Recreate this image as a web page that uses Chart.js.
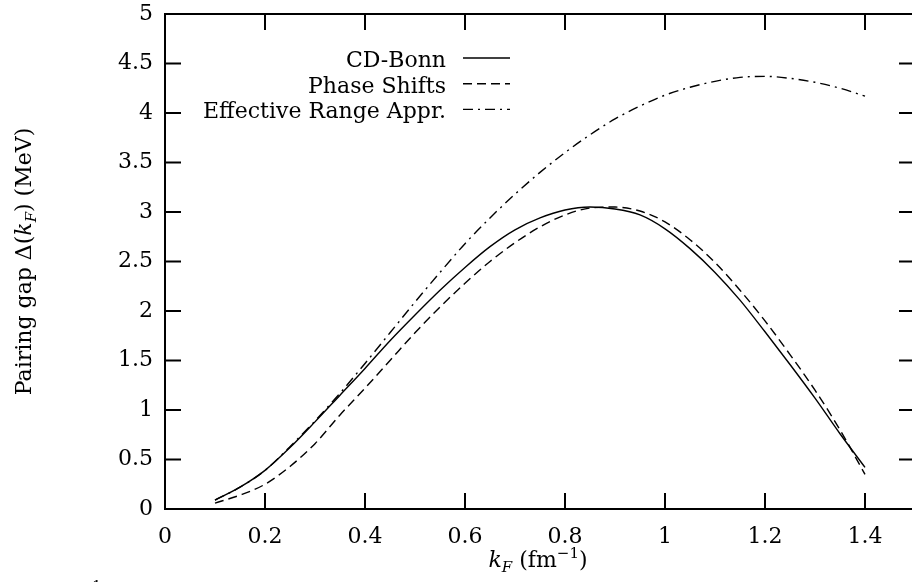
<!DOCTYPE html>
<html>
<head>
<meta charset="utf-8">
<script src="https://cdn.jsdelivr.net/npm/chart.js@4.4.1/dist/chart.umd.min.js"></script>
<style>
body { margin: 0; background: #fff; overflow: hidden; }
#wrap { width: 920px; height: 582px; }
</style>
</head>
<body>
<div id="wrap"><canvas id="gapChart" width="920" height="582"></canvas></div>
<script>
// k_F values (fm^-1)
const kF = [0.10, 0.15, 0.20, 0.25, 0.30, 0.35, 0.40, 0.45, 0.50, 0.55, 0.60, 0.65, 0.70, 0.75,
            0.80, 0.85, 0.90, 0.95, 1.00, 1.05, 1.10, 1.15, 1.20, 1.25, 1.30, 1.35, 1.40];
const cdBonn = [0.09, 0.22, 0.39, 0.62, 0.88, 1.15, 1.42, 1.70, 1.96, 2.21, 2.44, 2.65, 2.82, 2.94,
                3.02, 3.05, 3.03, 2.97, 2.83, 2.63, 2.39, 2.11, 1.79, 1.46, 1.12, 0.76, 0.42];
const phaseShifts = [0.06, 0.14, 0.25, 0.43, 0.66, 0.95, 1.22, 1.50, 1.78, 2.04, 2.28, 2.50, 2.69, 2.85,
                     2.97, 3.04, 3.05, 3.01, 2.90, 2.72, 2.49, 2.21, 1.90, 1.56, 1.20, 0.80, 0.35];
const effRange = [0.09, 0.22, 0.39, 0.63, 0.89, 1.17, 1.47, 1.78, 2.09, 2.39, 2.68, 2.94, 3.18, 3.40,
                  3.60, 3.78, 3.94, 4.07, 4.18, 4.26, 4.32, 4.36, 4.37, 4.35, 4.31, 4.25, 4.17];
const xTicks = [0, 0.2, 0.4, 0.6, 0.8, 1, 1.2, 1.4];
const yTicks = [0, 0.5, 1, 1.5, 2, 2.5, 3, 3.5, 4, 4.5, 5];
const seriesLabels = ['CD-Bonn', 'Phase Shifts', 'Effective Range Appr.'];

const FONT = 'DejaVu Serif';
const FS = 22;

function pts(ys) {
    return kF.map((k, i) => ({ x: k, y: ys[i] }));
}

// text runs: [text, style, size, dy]
function runsWidth(ctx, runs) {
    let w = 0;
    runs.forEach(r => {
        ctx.font = r[1] + ' ' + r[2] + 'px "' + FONT + '"';
        w += ctx.measureText(r[0]).width;
    });
    return w;
}
function drawRuns(ctx, runs, x, y) {
    runs.forEach(r => {
        ctx.font = r[1] + ' ' + r[2] + 'px "' + FONT + '"';
        ctx.fillText(r[0], x, y + r[3]);
        x += ctx.measureText(r[0]).width;
    });
}

const framePlugin = {
    id: 'frame',
    afterDraw(chart) {
        const ctx = chart.ctx;
        const { left, top, right, bottom } = chart.chartArea;
        const xs = chart.scales.x, ys = chart.scales.y;
        ctx.save();
        ctx.strokeStyle = '#000';
        ctx.lineWidth = 2;
        ctx.setLineDash([]);
        ctx.strokeRect(left, top, right - left, bottom - top);
        const tl = 16;
        ctx.beginPath();
        xTicks.forEach(v => {
            const p = xs.getPixelForValue(v);
            ctx.moveTo(p, bottom); ctx.lineTo(p, bottom - tl);
            ctx.moveTo(p, top); ctx.lineTo(p, top + tl);
        });
        yTicks.forEach(v => {
            const p = ys.getPixelForValue(v);
            ctx.moveTo(left, p); ctx.lineTo(left + tl, p);
            ctx.moveTo(right, p); ctx.lineTo(right - tl, p);
        });
        ctx.stroke();

        // legend
        ctx.fillStyle = '#000';
        ctx.font = FS + 'px "' + FONT + '"';
        ctx.textAlign = 'right';
        ctx.textBaseline = 'alphabetic';
        chart.data.datasets.forEach((ds, i) => {
            const base = 67 + i * 25.7;
            ctx.fillText(ds.label, 446, base);
            ctx.beginPath();
            ctx.lineWidth = 1.4;
            ctx.setLineDash(ds.borderDash || []);
            ctx.moveTo(463, base - 9);
            ctx.lineTo(510, base - 9);
            ctx.stroke();
        });
        ctx.setLineDash([]);

        // x title: k_F (fm^-1)
        ctx.textAlign = 'left';
        const xr = [['k', 'italic', FS, 0], ['F', 'italic', 15, 5], [' (fm', 'normal', FS, 0],
                    ['\u22121', 'normal', 15, -9], [')', 'normal', FS, 0]];
        const xw = runsWidth(ctx, xr);
        drawRuns(ctx, xr, (left + right) / 2 - xw / 2 - 2, 567);

        // y title
        ctx.save();
        ctx.translate(31, (top + bottom) / 2);
        ctx.rotate(-Math.PI / 2);
        const yr = [['Pairing gap \u0394(', 'normal', FS, 0], ['k', 'italic', FS, 0], ['F', 'italic', 15, 5],
                    [') (MeV)', 'normal', FS, 0]];
        const yw = runsWidth(ctx, yr);
        drawRuns(ctx, yr, -yw / 2, 0);
        ctx.restore();

        // clipped superscript fragment at bottom left
        ctx.font = '15px "' + FONT + '"';
        ctx.fillText('1', 92, 591);
        ctx.restore();
    }
};

const tickFont = { family: FONT, size: FS };

new Chart(document.getElementById('gapChart').getContext('2d'), {
    type: 'line',
    data: {
        datasets: [{
            label: seriesLabels[0],
            data: pts(cdBonn),
            borderColor: '#000',
            borderWidth: 1.4,
            pointRadius: 0,
            cubicInterpolationMode: 'monotone'
        }, {
            label: seriesLabels[1],
            data: pts(phaseShifts),
            borderColor: '#000',
            borderWidth: 1.4,
            borderDash: [9, 5],
            pointRadius: 0,
            cubicInterpolationMode: 'monotone'
        }, {
            label: seriesLabels[2],
            data: pts(effRange),
            borderColor: '#000',
            borderWidth: 1.4,
            borderDash: [10, 5, 2, 5],
            pointRadius: 0,
            cubicInterpolationMode: 'monotone'
        }]
    },
    options: {
        responsive: false,
        animation: false,
        layout: { padding: { left: 0, top: 14, right: 5, bottom: 0 } },
        plugins: { legend: { display: false }, tooltip: { enabled: false } },
        scales: {
            x: {
                type: 'linear',
                min: 0,
                max: 1.5,
                afterBuildTicks: s => { s.ticks = xTicks.map(v => ({ value: v })); },
                afterFit: s => { s.height = 73; s.paddingLeft = 0; s.paddingRight = 0; },
                grid: { display: false, drawTicks: false },
                border: { display: false },
                ticks: { font: tickFont, color: '#000', padding: 15, maxRotation: 0, callback: v => String(v) }
            },
            y: {
                type: 'linear',
                min: 0,
                max: 5,
                afterBuildTicks: s => { s.ticks = yTicks.map(v => ({ value: v })); },
                afterFit: s => { s.width = 165; s.paddingTop = 0; s.paddingBottom = 0; },
                grid: { display: false, drawTicks: false },
                border: { display: false },
                ticks: { font: tickFont, color: '#000', padding: 12, callback: v => String(v) }
            }
        }
    },
    plugins: [framePlugin]
});
</script>
</body>
</html>
